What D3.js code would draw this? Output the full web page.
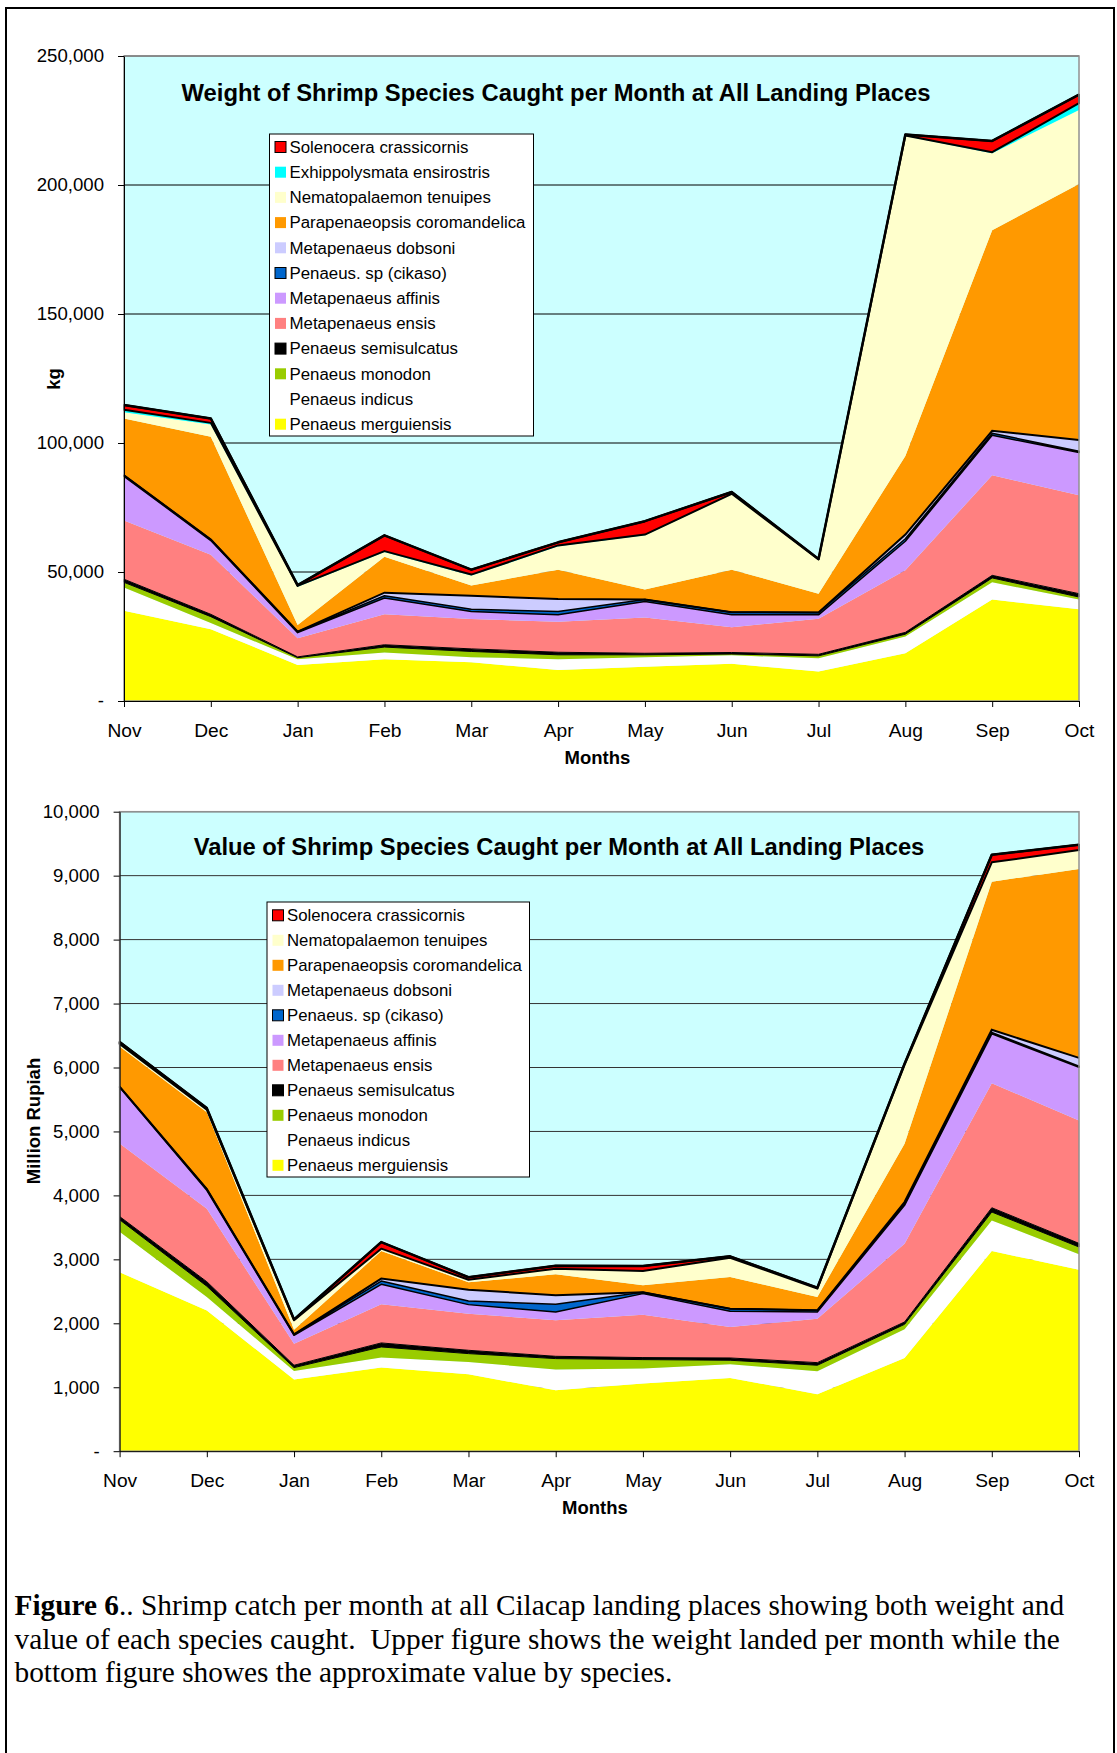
<!DOCTYPE html>
<html><head><meta charset="utf-8">
<script src="https://cdn.jsdelivr.net/npm/d3@7"></script>
<style>body{margin:0;background:#fff} svg{display:block}</style>
</head><body>
<svg id="fig" width="1117" height="1753"></svg>
<script>
// ---------- DATA ----------
const months = ["Nov","Dec","Jan","Feb","Mar","Apr","May","Jun","Jul","Aug","Sep","Oct"];
const weightTicks = [0, 50000, 100000, 150000, 200000, 250000];
const valueTicks = [0, 1000, 2000, 3000, 4000, 5000, 6000, 7000, 8000, 9000, 10000];

// stacking order, bottom -> top
const weightSpecies = ["Penaeus merguiensis","Penaeus indicus","Penaeus monodon","Penaeus semisulcatus",
  "Metapenaeus ensis","Metapenaeus affinis","Penaeus. sp (cikaso)","Metapenaeus dobsoni",
  "Parapenaeopsis coromandelica","Nematopalaemon tenuipes","Exhippolysmata ensirostris","Solenocera crassicornis"];
const valueSpecies = ["Penaeus merguiensis","Penaeus indicus","Penaeus monodon","Penaeus semisulcatus",
  "Metapenaeus ensis","Metapenaeus affinis","Penaeus. sp (cikaso)","Metapenaeus dobsoni",
  "Parapenaeopsis coromandelica","Nematopalaemon tenuipes","Solenocera crassicornis"];

// weight (kg) per month, Nov..Oct
const wMerguiensis   = [35000,27800,14000,16200,15000,12000,13300,14400,11400,18500,39300,35600];
const wIndicus       = [9000,2400,2200,2600,2000,4200,3700,3300,5200,6500,6700,3700];
const wMonodon       = [2000,2500,600,2100,2200,1700,900,500,900,900,1700,1000];
const wSemisulcatus  = [1200,900,300,900,1000,1000,600,600,600,700,1000,1300];
const wEnsis         = [22800,23100,7200,11800,11600,11800,13900,9800,13800,24100,38800,38100];
const wAffinis       = [17100,5500,2200,6300,2900,2700,6200,4800,1500,11200,15500,16600];
const wCikaso        = [400,400,400,900,900,1300,700,1000,900,1000,800,500];
const wDobsoni       = [0,0,0,1200,5200,4800,0,0,0,1600,900,4400];
const wCoromandelica = [22000,39800,2600,13900,4000,11400,3900,16500,7300,30500,77800,99200];
const wTenuipes      = [2400,4800,14800,1900,3800,9100,21000,29200,13200,124000,29800,28700];
const wExhippolysmata= [1000,600,300,300,400,300,300,200,100,200,400,2600];
const wSolenocera    = [1800,1700,300,6100,1900,1200,5200,700,100,400,4400,3300];

// value (million Rupiah) per month, Nov..Oct
const vMerguiensis   = [2800,2200,1120,1307,1203,953,1057,1146,891,1458,3130,2839];
const vIndicus       = [630,210,135,157,193,323,235,213,359,448,479,239];
const vMonodon       = [190,170,52,166,130,172,140,63,94,78,131,115];
const vSemisulcatus  = [50,70,37,63,52,36,32,36,41,37,67,57];
const vEnsis         = [1140,1140,338,604,573,563,671,485,688,1224,1948,1922];
const vAffinis       = [880,290,131,312,141,130,329,245,104,599,771,833];
const vCikaso        = [10,20,15,52,57,120,20,41,26,26,24,15];
const vDobsoni       = [0,0,0,39,177,140,0,0,0,26,39,131];
const vCoromandelica = [630,1200,73,430,115,329,110,495,208,911,2317,2953];
const vTenuipes      = [40,40,146,37,41,88,224,302,131,1233,302,297];
const vSolenocera    = [30,25,13,103,38,46,78,21,15,20,120,83];

const weightValues = [wMerguiensis,wIndicus,wMonodon,wSemisulcatus,wEnsis,wAffinis,wCikaso,wDobsoni,
  wCoromandelica,wTenuipes,wExhippolysmata,wSolenocera];
const valueValues = [vMerguiensis,vIndicus,vMonodon,vSemisulcatus,vEnsis,vAffinis,vCikaso,vDobsoni,
  vCoromandelica,vTenuipes,vSolenocera];

// ---------- STYLE ----------
const colors = {
  "Penaeus merguiensis":"#FFFF00","Penaeus indicus":"#FFFFFF","Penaeus monodon":"#99CC00",
  "Penaeus semisulcatus":"#000000","Metapenaeus ensis":"#FF8080","Metapenaeus affinis":"#CC99FF",
  "Penaeus. sp (cikaso)":"#0066CC","Metapenaeus dobsoni":"#CCCCFF","Parapenaeopsis coromandelica":"#FF9900",
  "Nematopalaemon tenuipes":"#FFFFCC","Exhippolysmata ensirostris":"#00FFFF","Solenocera crassicornis":"#FF0000"
};
const outlined = {"Penaeus. sp (cikaso)":1.5, "Solenocera crassicornis":2, "Penaeus semisulcatus":1};
const SANS = "'Liberation Sans', Arial, sans-serif";
const SERIF = "'Liberation Serif', 'Times New Roman', serif";

const svg = d3.select("#fig");
svg.append("rect").attr("x",6).attr("y",8).attr("width",1108).attr("height",1800)
  .attr("fill","none").attr("stroke","#000").attr("stroke-width",2);

function fit(sel, target) {
  const w = sel.node().getComputedTextLength();
  const fs = parseFloat(sel.attr("font-size"));
  sel.attr("font-size", (fs * target / w).toFixed(2));
  return fs * target / w;
}

function drawChart(c) {
  const g = svg.append("g");
  const rows = months.map((m, i) => {
    const r = {month: m};
    c.names.forEach((n, k) => r[n] = c.values[k][i]);
    return r;
  });
  const stacked = d3.stack().keys(c.names)(rows);
  const x = d3.scalePoint().domain(months).range([c.left, c.right]).padding(0);
  const y = d3.scaleLinear().domain([0, c.ticks[c.ticks.length-1]]).range([c.bottom, c.top]);

  g.append("rect").attr("x",c.left).attr("y",c.top).attr("width",c.right-c.left).attr("height",c.bottom-c.top)
    .attr("fill","#CCFFFF");
  g.selectAll(".grid").data(c.ticks.filter(t => t > 0)).join("line")
    .attr("x1",c.left).attr("x2",c.right).attr("y1",d=>y(d)).attr("y2",d=>y(d))
    .attr("stroke",c.gridColor).attr("stroke-width",1);

  const area = d3.area().x(d => x(d.data.month)).y0(d => y(d[0])).y1(d => y(d[1]));
  const line = d3.line().x(d => x(d.data.month)).y(d => y(d[1]));
  g.selectAll(".layer").data(stacked).join("path")
    .attr("d", area).attr("fill", d => colors[d.key]).attr("stroke","none");
  // outlines
  stacked.forEach(s => {
    if (outlined[s.key]) {
      g.append("path").attr("d", area(s)).attr("fill","none").attr("stroke","#000")
        .attr("stroke-width", outlined[s.key]).attr("stroke-linejoin","round");
    }
    if (s.key === "Metapenaeus dobsoni") {
      g.append("path").attr("d", line(s)).attr("fill","none").attr("stroke","#000").attr("stroke-width",2);
    }
  });
  // top of stack line
  g.append("path").attr("d", line(stacked[stacked.length-1])).attr("fill","none")
    .attr("stroke","#000").attr("stroke-width",2.5).attr("stroke-linejoin","round");

  // plot border
  g.append("rect").attr("x",c.left).attr("y",c.top).attr("width",c.right-c.left).attr("height",c.bottom-c.top)
    .attr("fill","none").attr("stroke","#909090").attr("stroke-width",1.5);

  // axes
  const yAxis = d3.axisLeft(y).tickValues(c.ticks).tickSize(6).tickSizeOuter(0).tickPadding(14)
    .tickFormat(d => d === 0 ? "-" : d3.format(",")(d));
  const ya = g.append("g").attr("transform", `translate(${c.left},0)`).call(yAxis);
  ya.select(".domain").attr("stroke","#000");
  ya.selectAll(".tick line").attr("stroke","#000");
  ya.selectAll("text").attr("font-family",SANS).attr("font-size",18.6).attr("fill","#000");

  const xAxis = d3.axisBottom(x).tickSize(6).tickSizeOuter(0);
  const xa = g.append("g").attr("transform", `translate(0,${c.bottom})`).call(xAxis);
  xa.select(".domain").attr("stroke","#000");
  xa.selectAll(".tick line").attr("stroke","#000");
  xa.selectAll("text").attr("font-family",SANS).attr("font-size",19.2).attr("fill","#000")
    .attr("y", c.xLabelY - c.bottom).attr("dy","0.35em");

  // axis titles
  g.append("text").attr("x",c.monthsX).attr("y",c.monthsY).attr("dy","0.35em")
    .attr("text-anchor","middle").attr("font-family",SANS).attr("font-weight","bold")
    .attr("font-size",18.5).text("Months");
  g.append("text").attr("transform",`translate(${c.ylabX},${c.ylabY}) rotate(-90)`).attr("dy","0.35em")
    .attr("text-anchor","middle").attr("font-family",SANS).attr("font-weight","bold")
    .attr("font-size",18.5).text(c.ylabel);

  // chart title
  const t = g.append("text").attr("x",c.titleX).attr("y",c.titleY).attr("text-anchor","middle")
    .attr("font-family",SANS).attr("font-weight","bold").attr("font-size",22).text(c.title);
  fit(t, c.titleW);

  // legend
  const L = c.legend;
  g.append("rect").attr("x",L.x).attr("y",L.y).attr("width",L.w).attr("height",L.h)
    .attr("fill","#fff").attr("stroke","#000").attr("stroke-width",1);
  const items = c.names.slice().reverse();
  let fs = null;
  items.forEach((n, i) => {
    const cy = L.first + i * L.step;
    const sw = outlined[n] ? 1 : 0;
    g.append("rect").attr("x",L.swX).attr("y",cy-5.5).attr("width",11).attr("height",11)
      .attr("fill",colors[n]).attr("stroke", sw ? "#000" : "none").attr("stroke-width", sw);
    const tx = g.append("text").attr("x",L.txX).attr("y",cy).attr("dy","0.35em")
      .attr("font-family",SANS).attr("font-size",16.5).text(n);
    if (n === "Parapenaeopsis coromandelica") fs = fit(tx, L.longW);
    tx.classed("legtxt"+c.id, true);
  });
  g.selectAll(".legtxt"+c.id).attr("font-size", fs.toFixed(2));
}

drawChart({
  id: "w", names: weightSpecies, values: weightValues, ticks: weightTicks,
  left: 124, right: 1079, top: 56, bottom: 701, gridColor: "#000",
  xLabelY: 730, monthsX: 597.5, monthsY: 758, ylabel: "kg", ylabX: 54, ylabY: 379,
  title: "Weight of Shrimp Species Caught per Month at All Landing Places", titleX: 556, titleY: 101, titleW: 749,
  legend: {x: 269.5, y: 134, w: 264, h: 302, first: 147, step: 25.2, swX: 275, txX: 289.5, longW: 236}
});
drawChart({
  id: "v", names: valueSpecies, values: valueValues, ticks: valueTicks,
  left: 119.6, right: 1079, top: 811.7, bottom: 1451.2, gridColor: "#333",
  xLabelY: 1480, monthsX: 595, monthsY: 1508, ylabel: "Million Rupiah", ylabX: 34, ylabY: 1121,
  title: "Value of Shrimp Species Caught per Month at All Landing Places", titleX: 559, titleY: 855, titleW: 731,
  legend: {x: 267, y: 902, w: 262.5, h: 275, first: 915.3, step: 25, swX: 272.5, txX: 287, longW: 235}
});

// caption
const capLines = [
  [["Figure 6", true], [".. Shrimp catch per month at all Cilacap landing places showing both weight and", false]],
  [["value of each species caught.  Upper figure shows the weight landed per month while the", false]],
  [["bottom figure showes the approximate value by species.", false]]
];
const capBase = [1615, 1649, 1682];
const capTexts = capLines.map((ln, i) => {
  const t = svg.append("text").attr("x",14.5).attr("y",capBase[i]).attr("font-family",SERIF)
    .attr("font-size",26).attr("fill","#000").style("white-space","pre");
  ln.forEach(([s, b]) => t.append("tspan").attr("font-weight", b ? "bold" : "normal").text(s));
  return t;
});
const capFs = fit(capTexts[0], 1050);
capTexts.forEach(t => t.attr("font-size", capFs.toFixed(2)));
</script></body></html>
